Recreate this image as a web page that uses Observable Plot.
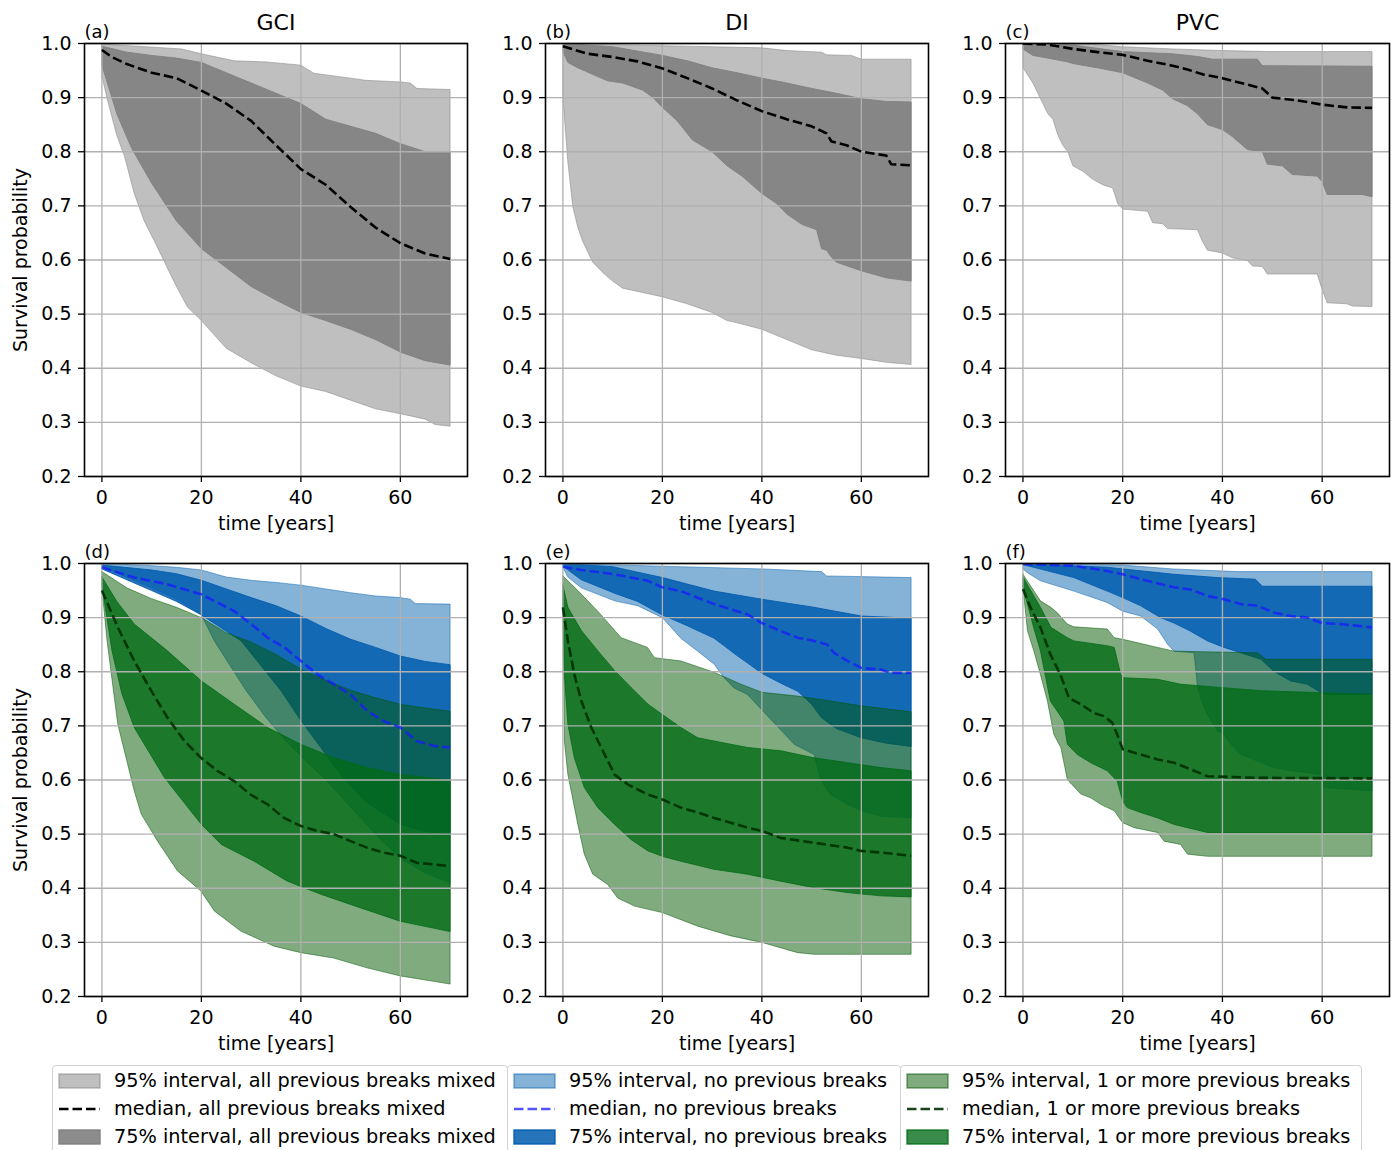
<!DOCTYPE html>
<html>
<head>
<meta charset="utf-8">
<script src="https://cdn.jsdelivr.net/npm/d3@7"></script>
<script src="https://cdn.jsdelivr.net/npm/@observablehq/plot@0.6"></script>
<style>
  html, body { margin: 0; padding: 0; background: #ffffff; }
  #figure { position: relative; width: 1395px; height: 1150px; overflow: hidden; background: #ffffff;
            font-family: "DejaVu Sans", sans-serif; color: #000; }
  .panel { position: absolute; }
  .legend-box { position: absolute; top: 1065px; height: 100px; border: 1px solid #d2d2d2; border-radius: 4px;
                box-sizing: border-box; background: #fff; }
  .legend-row { position: absolute; left: 0; height: 20px; display: flex; align-items: center; }
  .legend-row svg { position: absolute; left: 5px; top: 2px; }
  .legend-row span { position: absolute; left: 61px; white-space: nowrap; font-size: 19.3px; line-height: 20px; top: 0; }
</style>
</head>
<body>
<div id="figure"></div>
<script>
// Survival probability curves; each curve is a list of [time in years, probability] pairs.
// Shaded bands are the 95% and 75% intervals, dashed lines the medians.

const xTicks = [0, 20, 40, 60];
const yTicks = [0.2, 0.3, 0.4, 0.5, 0.6, 0.7, 0.8, 0.9, 1.0];
const materials = ["GCI", "DI", "PVC"];
const panelLetters = ["(a)", "(b)", "(c)", "(d)", "(e)", "(f)"];

// ---- GCI, all previous breaks mixed ----
const gciAll95Hi = [[0,0.999],[16,0.99],[20,0.981],[26.6,0.968],[33,0.966],[40,0.96],[42.6,0.945],[50,0.936],[53,0.932],[60,0.929],[62,0.927],[63.3,0.917],[70,0.915]];
const gciAll95Lo = [[0,0.94],[1,0.9],[2,0.865],[3,0.83],[4.5,0.793],[6.5,0.723],[8.5,0.672],[10.6,0.634],[14.6,0.558],[17.2,0.513],[20,0.488],[25,0.437],[30,0.41],[35,0.386],[40,0.367],[45,0.357],[50,0.341],[55,0.325],[60,0.316],[65,0.306],[67,0.296],[70,0.293]];
const gciAll75Hi = [[0,0.995],[5,0.984],[10,0.978],[15,0.973],[20,0.965],[25,0.946],[30,0.927],[35,0.908],[40,0.889],[45,0.86],[50,0.847],[55,0.834],[60,0.815],[65,0.8],[70,0.8]];
const gciAll75Lo = [[0,0.96],[1.5,0.915],[3,0.87],[6,0.806],[10,0.742],[15,0.672],[20,0.621],[25,0.586],[30,0.551],[35,0.526],[40,0.503],[45,0.488],[50,0.472],[55,0.453],[60,0.43],[65,0.414],[70,0.406]];
const gciAllMed  = [[0,0.988],[2,0.975],[5,0.962],[10,0.946],[15,0.936],[20,0.913],[25,0.889],[30,0.857],[35,0.812],[40,0.768],[45,0.739],[50,0.698],[55,0.66],[60,0.631],[65,0.612],[70,0.602]];

// ---- DI, all previous breaks mixed ----
const diAll95Hi = [[0,1.0],[20,0.996],[40,0.992],[45,0.987],[52,0.984],[53,0.979],[58,0.978],[60,0.971],[70,0.971]];
const diAll95Lo = [[0,0.9],[1,0.78],[2,0.698],[3,0.66],[4,0.634],[6,0.596],[8,0.577],[10,0.561],[12,0.548],[15,0.542],[20,0.532],[25,0.519],[30,0.503],[33,0.488],[35,0.484],[40,0.472],[45,0.453],[50,0.434],[55,0.424],[60,0.418],[65,0.411],[70,0.407]];
const diAll75Hi = [[0,1.0],[10,0.994],[20,0.978],[25,0.968],[30,0.955],[35,0.946],[40,0.936],[45,0.927],[50,0.917],[55,0.908],[60,0.898],[65,0.893],[70,0.892]];
const diAll75Lo = [[0,0.985],[1,0.965],[3,0.955],[6,0.943],[9,0.931],[12,0.927],[16,0.914],[18,0.901],[20,0.882],[23,0.857],[26,0.822],[30,0.8],[33,0.774],[36,0.755],[40,0.723],[43,0.704],[45,0.685],[48,0.666],[51,0.656],[52,0.621],[53,0.618],[54,0.605],[55,0.596],[60,0.58],[65,0.567],[70,0.561]];
const diAllMed  = [[0,0.995],[5,0.981],[10,0.975],[15,0.967],[20,0.954],[25,0.936],[30,0.917],[35,0.895],[40,0.875],[45,0.86],[50,0.847],[53,0.834],[54,0.819],[57,0.812],[60,0.8],[65,0.793],[66,0.777],[70,0.775]];

// ---- PVC, all previous breaks mixed ----
const pvcAll95Hi = [[0,1.0],[15,0.998],[20,0.994],[30,0.99],[40,0.987],[50,0.985],[70,0.985]];
const pvcAll95Lo = [[0,0.955],[2,0.927],[4,0.889],[5,0.87],[6,0.86],[7,0.831],[8,0.812],[9,0.8],[10,0.774],[12,0.764],[14,0.749],[16,0.739],[18,0.733],[19,0.704],[20,0.694],[25,0.69],[26,0.669],[28,0.667],[29,0.658],[35,0.656],[36,0.634],[37,0.618],[40,0.613],[42,0.604],[45,0.599],[46,0.589],[48,0.588],[49,0.574],[59,0.574],[60,0.545],[61,0.521],[65,0.519],[66,0.515],[70,0.514]];
const pvcAll75Hi = [[0,0.999],[10,0.997],[20,0.985],[30,0.981],[35,0.976],[38,0.971],[47,0.971],[48,0.959],[70,0.958]];
const pvcAll75Lo = [[0,0.99],[2,0.978],[5,0.973],[9,0.966],[10,0.963],[15,0.955],[20,0.946],[25,0.927],[28,0.914],[30,0.898],[33,0.885],[35,0.87],[37,0.85],[40,0.841],[42,0.828],[45,0.804],[48,0.8],[49,0.777],[52,0.774],[54,0.758],[59,0.755],[60,0.745],[61,0.721],[68,0.721],[70,0.717]];
const pvcAllMed  = [[0,1.0],[5,0.998],[10,0.99],[15,0.984],[20,0.979],[25,0.968],[30,0.959],[33,0.952],[36,0.943],[40,0.936],[45,0.924],[48,0.917],[50,0.9],[55,0.895],[60,0.887],[65,0.882],[70,0.881]];

// ---- GCI, no previous breaks ----
const gciNone95Hi = [[0,1.0],[10,0.996],[15,0.993],[20,0.988],[25,0.975],[30,0.969],[35,0.965],[40,0.96],[45,0.953],[50,0.946],[55,0.94],[60,0.937],[62,0.934],[63,0.926],[70,0.925]];
const gciNone95Lo = [[0,0.995],[5,0.975],[10,0.955],[15,0.935],[20,0.905],[22.6,0.857],[29,0.765],[33,0.715],[37,0.672],[41,0.635],[45,0.6],[50,0.55],[55,0.5],[60,0.455],[65,0.428],[70,0.41]];
const gciNone75Hi = [[0,0.997],[10,0.988],[15,0.981],[20,0.969],[25,0.953],[30,0.937],[35,0.922],[40,0.903],[45,0.88],[50,0.86],[55,0.845],[60,0.829],[65,0.819],[70,0.813]];
const gciNone75Lo = [[0,0.99],[5,0.97],[10,0.95],[15,0.93],[20,0.905],[28,0.857],[36,0.765],[40,0.71],[44,0.66],[48,0.61],[53,0.56],[60,0.518],[65,0.505],[70,0.5]];
const gciNoneMed  = [[0,0.993],[6.5,0.974],[13,0.962],[20,0.943],[26.6,0.912],[30,0.888],[33.3,0.863],[36.7,0.845],[40,0.82],[43.3,0.795],[46.6,0.777],[50,0.758],[53.3,0.728],[56.6,0.709],[60,0.697],[63.3,0.672],[66.7,0.663],[70,0.66]];

// ---- GCI, 1 or more previous breaks ----
const gciSome95Hi = [[0,0.985],[5,0.955],[10,0.935],[15,0.919],[20,0.9],[25,0.872],[30,0.855],[35,0.832],[40,0.805],[45,0.784],[50,0.766],[55,0.752],[60,0.74],[65,0.733],[70,0.727]];
const gciSome95Lo = [[0,0.955],[1,0.86],[1.9,0.795],[3.2,0.703],[6.5,0.58],[7.9,0.537],[11.2,0.487],[15.2,0.432],[19.9,0.395],[22.6,0.358],[27.9,0.321],[34.6,0.293],[40,0.281],[46.6,0.271],[53.3,0.253],[60,0.238],[66.7,0.228],[70,0.223]];
const gciSome75Hi = [[0,0.975],[3,0.93],[6.5,0.888],[13,0.84],[20,0.783],[26.6,0.74],[33.3,0.697],[40,0.666],[46.6,0.641],[53.3,0.623],[60,0.61],[70,0.6]];
const gciSome75Lo = [[0,0.96],[2,0.84],[4,0.76],[6.5,0.697],[12.6,0.604],[20,0.518],[24,0.481],[30.6,0.45],[37.3,0.413],[44,0.389],[50,0.37],[60,0.339],[70,0.32]];
const gciSomeMed  = [[0,0.95],[3.2,0.882],[6.5,0.82],[9.9,0.765],[13.2,0.715],[16.6,0.672],[19.9,0.641],[23.2,0.617],[26.6,0.598],[29.9,0.573],[33.3,0.555],[36.6,0.53],[40,0.515],[43.3,0.506],[46.6,0.5],[50,0.487],[53.3,0.475],[56.6,0.466],[60,0.46],[63.3,0.447],[66.7,0.444],[70,0.441]];

// ---- DI, no previous breaks ----
const diNone95Hi = [[0,1.0],[20,0.995],[40,0.99],[45,0.988],[52,0.985],[53,0.977],[70,0.974]];
const diNone95Lo = [[0,0.993],[1,0.975],[3.7,0.955],[10.4,0.931],[15,0.922],[20,0.9],[23.7,0.862],[27.1,0.838],[30.4,0.814],[32.4,0.789],[34.4,0.77],[37.1,0.758],[42,0.71],[46.5,0.666],[50.5,0.647],[51.8,0.6],[53.8,0.573],[57.2,0.555],[60,0.543],[63.9,0.533],[70,0.53]];
const diNone75Hi = [[0,1.0],[10,0.994],[20,0.974],[30.4,0.949],[40,0.934],[50.5,0.919],[60,0.903],[70,0.899]];
const diNone75Lo = [[0,0.995],[3.7,0.97],[10.4,0.945],[15,0.93],[20,0.905],[25,0.885],[30.4,0.862],[35,0.83],[40,0.797],[44,0.778],[47.2,0.764],[50,0.74],[52,0.715],[55,0.695],[60,0.678],[65,0.668],[70,0.662]];
const diNoneMed  = [[0,0.994],[3.7,0.988],[10.4,0.98],[17.1,0.968],[20,0.956],[23.7,0.949],[30.4,0.925],[37.1,0.906],[40,0.89],[43.8,0.875],[47.2,0.863],[50.5,0.857],[53.2,0.85],[54.5,0.835],[57.2,0.82],[60,0.807],[63.9,0.804],[65.9,0.798],[70,0.798]];

// ---- DI, 1 or more previous breaks ----
const diSome95Hi = [[0,0.977],[3,0.95],[7,0.912],[11.7,0.863],[17,0.845],[18.4,0.826],[23.7,0.82],[30.4,0.799],[35.8,0.777],[40,0.762],[47.2,0.755],[53.8,0.746],[60,0.737],[70,0.726]];
const diSome95Lo = [[0,0.92],[0.3,0.672],[1,0.61],[3,0.518],[4.3,0.463],[6,0.426],[9,0.407],[11,0.382],[14.4,0.367],[20,0.355],[27.1,0.33],[33.8,0.312],[40,0.3],[47.2,0.281],[50.5,0.278],[70,0.278]];
const diSome75Hi = [[0,0.96],[1,0.919],[3.7,0.876],[7,0.839],[10.4,0.802],[13.7,0.771],[17.1,0.74],[20,0.721],[23.7,0.697],[27.1,0.678],[30.4,0.672],[37.1,0.66],[43.8,0.654],[50.5,0.641],[57.2,0.632],[63.9,0.623],[70,0.617]];
const diSome75Lo = [[0,0.92],[0.3,0.795],[1,0.703],[2.3,0.641],[4.3,0.586],[7,0.549],[10.4,0.518],[13.7,0.49],[17.1,0.469],[20,0.459],[23.7,0.45],[30.4,0.435],[37.1,0.426],[43.8,0.413],[50.5,0.401],[57.2,0.392],[63.9,0.386],[70,0.384]];
const diSomeMed  = [[0,0.919],[1,0.857],[2.3,0.795],[3.7,0.746],[5.7,0.697],[8.4,0.647],[10.4,0.61],[13,0.592],[17.1,0.573],[20,0.564],[23.7,0.549],[27.1,0.54],[30.4,0.53],[37.1,0.512],[40,0.506],[43.8,0.493],[50.5,0.484],[57.2,0.475],[60,0.469],[63.9,0.466],[70,0.46]];

// ---- PVC, no previous breaks ----
const pvcNone95Hi = [[0,1.0],[20,0.997],[30,0.99],[43,0.985],[70,0.985]];
const pvcNone95Lo = [[0,0.99],[0.9,0.983],[3.5,0.968],[10.2,0.949],[16.9,0.928],[20,0.912],[23.6,0.903],[27,0.879],[29,0.851],[30.3,0.838],[34.3,0.835],[35,0.771],[36.3,0.734],[37,0.721],[39,0.69],[40,0.687],[41.7,0.666],[43.7,0.647],[47,0.635],[50.4,0.623],[53.7,0.617],[60,0.61],[60.4,0.586],[70,0.58]];
const pvcNone75Hi = [[0,1.0],[16.9,0.993],[30.3,0.98],[39,0.974],[46.6,0.971],[48,0.958],[70,0.958]];
const pvcNone75Lo = [[0,0.998],[10.2,0.974],[16.9,0.949],[20,0.937],[23.6,0.922],[27.6,0.9],[30.3,0.89],[33.6,0.875],[37,0.857],[40.3,0.845],[43.7,0.835],[47.7,0.823],[50.4,0.8],[53.7,0.783],[57,0.777],[60.4,0.758],[70,0.758]];
const pvcNoneMed  = [[0,0.999],[10.2,0.996],[16.9,0.986],[20,0.98],[23.6,0.971],[30.3,0.956],[33.6,0.952],[37,0.94],[40.3,0.934],[43.7,0.925],[47,0.922],[50.4,0.909],[53.7,0.903],[57,0.9],[60,0.89],[63.7,0.888],[70,0.882]];

// ---- PVC, 1 or more previous breaks ----
const pvcSome95Hi = [[0,0.98],[3.5,0.931],[5.6,0.919],[6.9,0.909],[8.9,0.888],[10.2,0.883],[16.9,0.879],[18.3,0.863],[20,0.86],[27,0.845],[30.3,0.838],[47,0.835],[48.7,0.823],[70,0.823]];
const pvcSome95Lo = [[0,0.956],[0.9,0.876],[2.2,0.838],[3.5,0.795],[4.9,0.746],[6.2,0.684],[7.6,0.66],[8.9,0.601],[11.6,0.574],[13.6,0.567],[15.6,0.555],[18.3,0.543],[20,0.521],[22.3,0.512],[27,0.503],[28.3,0.487],[31.6,0.481],[33,0.463],[37,0.459],[70,0.459]];
const pvcSome75Hi = [[0,0.975],[3.5,0.919],[5.6,0.882],[8.9,0.863],[10.2,0.857],[16.9,0.848],[18.3,0.845],[19.6,0.795],[20,0.789],[27,0.786],[31.6,0.777],[47.7,0.765],[70,0.758]];
const pvcSome75Lo = [[0,0.956],[2.2,0.88],[3.5,0.839],[5.5,0.746],[8.2,0.709],[8.9,0.666],[10.9,0.647],[13.6,0.632],[16.9,0.617],[18.9,0.598],[20,0.561],[20.9,0.549],[23.6,0.54],[27,0.53],[30.3,0.518],[37,0.503],[70,0.503]];
const pvcSomeMed  = [[0,0.953],[1.5,0.919],[3.5,0.882],[5.5,0.832],[7.5,0.795],[9.2,0.752],[11.6,0.74],[14.2,0.724],[16.2,0.718],[17.9,0.706],[18.9,0.684],[20,0.657],[23.6,0.647],[27,0.638],[30.3,0.632],[33.6,0.62],[37,0.607],[47,0.604],[70,0.603]];

// ---- styling of each group ----
const styles = {
  all95:  {fill: "#808080", opacity: 0.5},
  all75:  {fill: "#808080", opacity: 0.9},
  allMed: {stroke: "#000000", opacity: 1},
  none95: {fill: "#0b65af", opacity: 0.5},
  none75: {fill: "#005cae", opacity: 0.85},
  noneMed:{stroke: "#1a1aff", opacity: 0.75},
  some95: {fill: "#005700", opacity: 0.5},
  some75: {fill: "#006a15", opacity: 0.78},
  someMed:{stroke: "#003000", opacity: 0.9}
};

const panels = [
  {title: "GCI", bands: [[gciAll95Hi, gciAll95Lo, "all95"], [gciAll75Hi, gciAll75Lo, "all75"]], medians: [[gciAllMed, "allMed"]]},
  {title: "DI",  bands: [[diAll95Hi, diAll95Lo, "all95"], [diAll75Hi, diAll75Lo, "all75"]], medians: [[diAllMed, "allMed"]]},
  {title: "PVC", bands: [[pvcAll95Hi, pvcAll95Lo, "all95"], [pvcAll75Hi, pvcAll75Lo, "all75"]], medians: [[pvcAllMed, "allMed"]]},
  {title: null, bands: [[gciNone95Hi, gciNone95Lo, "none95"], [gciNone75Hi, gciNone75Lo, "none75"], [gciSome95Hi, gciSome95Lo, "some95"], [gciSome75Hi, gciSome75Lo, "some75"]], medians: [[gciNoneMed, "noneMed"], [gciSomeMed, "someMed"]]},
  {title: null, bands: [[diNone95Hi, diNone95Lo, "none95"], [diNone75Hi, diNone75Lo, "none75"], [diSome95Hi, diSome95Lo, "some95"], [diSome75Hi, diSome75Lo, "some75"]], medians: [[diNoneMed, "noneMed"], [diSomeMed, "someMed"]]},
  {title: null, bands: [[pvcNone95Hi, pvcNone95Lo, "none95"], [pvcNone75Hi, pvcNone75Lo, "none75"], [pvcSome95Hi, pvcSome95Lo, "some95"], [pvcSome75Hi, pvcSome75Lo, "some75"]], medians: [[pvcNoneMed, "noneMed"], [pvcSomeMed, "someMed"]]}
];

const legendGroups = [
  [["all95", "95% interval, all previous breaks mixed"], ["allMed", "median, all previous breaks mixed"], ["all75", "75% interval, all previous breaks mixed"]],
  [["none95", "95% interval, no previous breaks"], ["noneMed", "median, no previous breaks"], ["none75", "75% interval, no previous breaks"]],
  [["some95", "95% interval, 1 or more previous breaks"], ["someMed", "median, 1 or more previous breaks"], ["some75", "75% interval, 1 or more previous breaks"]]
];

// ---- layout of the 2 x 3 grid ----
const columns = [
  {left: 0,   width: 470, ml: 84, mr: 3},
  {left: 470, width: 465, ml: 75, mr: 7},
  {left: 935, width: 460, ml: 70, mr: 6}
];
const rowsLayout = [
  {top: 0,   height: 540, mt: 43, mb: 64},
  {top: 540, height: 520, mt: 23, mb: 64}
];

const DASH = "9.5,4";
const FONT = "DejaVu Sans";

// closed outline: upper curve left to right, lower curve right to left
function outline(hi, lo) {
  return [...hi, ...lo.slice().reverse(), hi[0]];
}

const fig = document.getElementById("figure");

panels.forEach((p, i) => {
  const col = columns[i % 3];
  const row = rowsLayout[Math.floor(i / 3)];
  const marks = [];

  for (const [hi, lo, key] of p.bands) {
    const s = styles[key];
    marks.push(Plot.line(outline(hi, lo), {
      x: d => d[0], y: d => d[1],
      fill: s.fill, fillOpacity: s.opacity,
      stroke: s.fill, strokeOpacity: s.opacity, strokeWidth: 1,
      strokeLinejoin: "miter", clip: true
    }));
  }

  marks.push(Plot.gridX(xTicks, {stroke: "#b0b0b0", strokeOpacity: 1, strokeWidth: 1.3}));
  marks.push(Plot.gridY(yTicks, {stroke: "#b0b0b0", strokeOpacity: 1, strokeWidth: 1.3}));

  for (const [med, key] of p.medians) {
    const s = styles[key];
    marks.push(Plot.line(med, {
      x: d => d[0], y: d => d[1],
      stroke: s.stroke, strokeOpacity: s.opacity, strokeWidth: 2.6,
      strokeDasharray: DASH, strokeLinecap: "butt", clip: true
    }));
  }

  marks.push(Plot.axisX(xTicks, {tickSize: 6, tickPadding: 8, fontSize: 19, strokeWidth: 1.3, label: null}));
  marks.push(Plot.axisY(yTicks, {tickSize: 6, tickPadding: 7, fontSize: 19, strokeWidth: 1.3, label: null,
                                 tickFormat: d => d.toFixed(1)}));
  marks.push(Plot.frame({stroke: "#000", strokeWidth: 1.6}));

  if (p.title) {
    marks.push(Plot.text([p.title], {text: d => d, frameAnchor: "top", lineAnchor: "middle", dy: -21, fontSize: 22}));
  }
  marks.push(Plot.text([panelLetters[i]], {text: d => d, frameAnchor: "top-left", lineAnchor: "middle", dy: -11, textAnchor: "start", fontSize: 18}));
  marks.push(Plot.text(["time [years]"], {text: d => d, frameAnchor: "bottom", lineAnchor: "middle", dy: 47, fontSize: 19}));
  if (i % 3 === 0) {
    marks.push(Plot.text(["Survival probability"], {text: d => d, frameAnchor: "left", textAnchor: "middle", lineAnchor: "middle", dx: -64, rotate: -90, fontSize: 19}));
  }

  const chart = Plot.plot({
    width: col.width,
    height: row.height,
    marginLeft: col.ml, marginRight: col.mr,
    marginTop: row.mt, marginBottom: row.mb,
    x: {domain: [-3.5, 73.5]},
    y: {domain: [0.2, 1.0]},
    style: {fontFamily: FONT, fontSize: "19px", color: "#000", background: "transparent", overflow: "visible"},
    marks
  });
  const wrap = document.createElement("div");
  wrap.className = "panel";
  wrap.style.left = col.left + "px";
  wrap.style.top = row.top + "px";
  wrap.appendChild(chart);
  fig.appendChild(wrap);
});

// ---- legend below the grid ----
const legendBoxes = [{left: 52, width: 456}, {left: 507, width: 394}, {left: 900, width: 462}];
legendGroups.forEach((group, g) => {
  const box = document.createElement("div");
  box.className = "legend-box";
  box.style.left = legendBoxes[g].left + "px";
  box.style.width = legendBoxes[g].width + "px";
  group.forEach(([key, label], r) => {
    const s = styles[key];
    const rowEl = document.createElement("div");
    rowEl.className = "legend-row";
    rowEl.style.top = (5 + r * 28) + "px";
    let icon;
    if (s.fill) {
      icon = `<svg width="44" height="16"><rect x="1" y="1" width="41" height="14" fill="${s.fill}" fill-opacity="${s.opacity}" stroke="${s.fill}" stroke-opacity="${s.opacity}" stroke-width="1.5"/></svg>`;
    } else {
      icon = `<svg width="44" height="16"><line x1="1" y1="8" x2="42" y2="8" stroke="${s.stroke}" stroke-opacity="${s.opacity}" stroke-width="2.6" stroke-dasharray="${DASH}"/></svg>`;
    }
    rowEl.innerHTML = icon + `<span>${label}</span>`;
    box.appendChild(rowEl);
  });
  fig.appendChild(box);
});
</script>
</body>
</html>
